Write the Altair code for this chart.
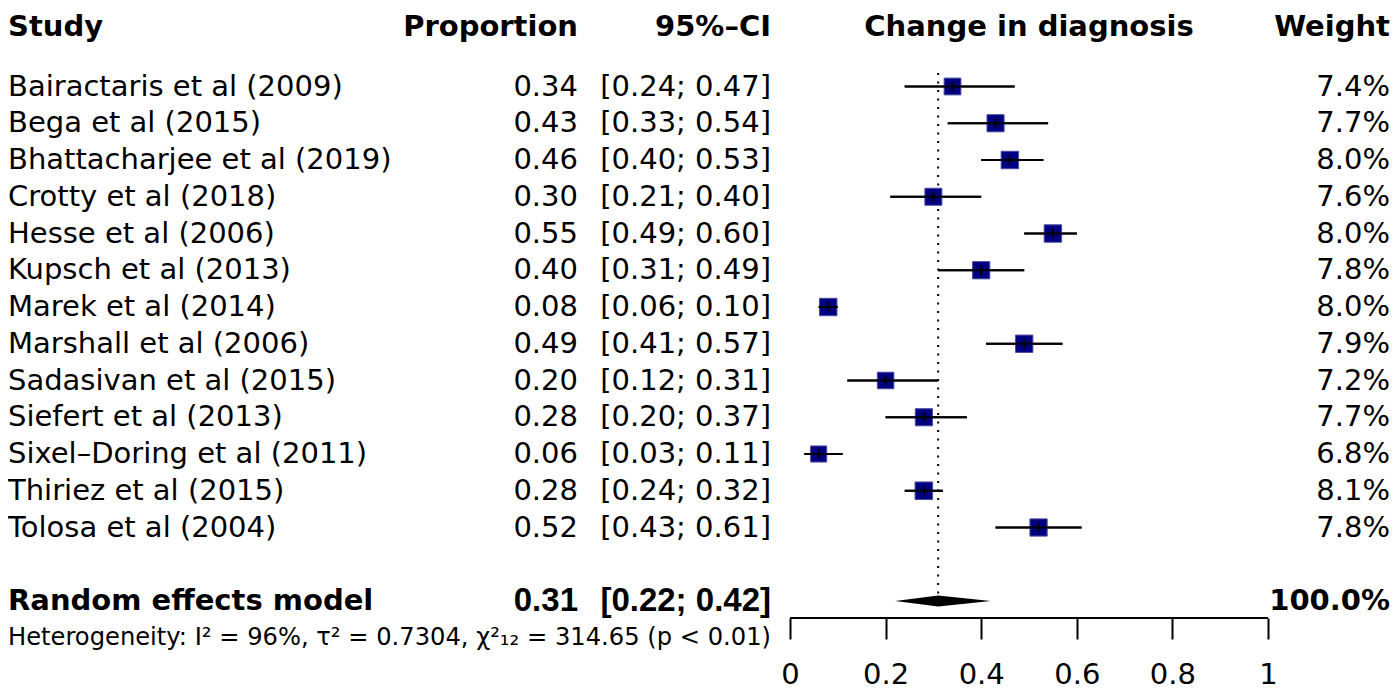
import altair as alt
import pandas as pd

# ---------------- data ----------------
studies = [
    "Bairactaris et al (2009)", "Bega et al (2015)", "Bhattacharjee et al (2019)",
    "Crotty et al (2018)", "Hesse et al (2006)", "Kupsch et al (2013)",
    "Marek et al (2014)", "Marshall et al (2006)", "Sadasivan et al (2015)",
    "Siefert et al (2013)", "Sixel–Doring et al (2011)", "Thiriez et al (2015)",
    "Tolosa et al (2004)",
]
proportion = [0.34, 0.43, 0.46, 0.30, 0.55, 0.40, 0.08, 0.49, 0.20, 0.28, 0.06, 0.28, 0.52]
ci_low = [0.24, 0.33, 0.40, 0.21, 0.49, 0.31, 0.06, 0.41, 0.12, 0.20, 0.03, 0.24, 0.43]
ci_high = [0.47, 0.54, 0.53, 0.40, 0.60, 0.49, 0.10, 0.57, 0.31, 0.37, 0.11, 0.32, 0.61]
weight = [7.4, 7.7, 8.0, 7.6, 8.0, 7.8, 8.0, 7.9, 7.2, 7.7, 6.8, 8.1, 7.8]

pooled_label = "Random effects model"
pooled_est = 0.31
pooled_low = 0.22
pooled_high = 0.42
pooled_weight = 100.0

headers = ["Study", "Proportion", "95%–CI", "Change in diagnosis", "Weight"]
heterogeneity = "Heterogeneity: I² = 96%, τ² = 0.7304, χ²₁₂ = 314.65 (p < 0.01)"
tick_values = [0, 0.2, 0.4, 0.6, 0.8, 1]

# ---------------- layout ----------------
W, H, PAD_B = 1383, 610, 74
X0PX, UNIT = 782, 478            # pixel of x=0 and pixels per unit
ROW0, RSTEP = 78.5, 36.75        # pixel of first row and row step
FONT = "DejaVu Sans"
NFONT = "Liberation Sans"        # narrower bold for pooled numbers
FS = 29
NFS = 33
COL_PROP, COL_CI, COL_W = 570, 763, 1382

n = len(studies)
header_row = -1.62
pooled_row = n + 1
het_row = n + 2
diamond_half = 0.15

xs = alt.Scale(domain=[-X0PX / UNIT, (W - X0PX) / UNIT], nice=False, zero=False)
ys = alt.Scale(domain=[-ROW0 / RSTEP, (H - ROW0) / RSTEP], nice=False, zero=False, reverse=True)
xaxis = alt.Axis(values=tick_values, format="~g", domain=False, grid=False, title=None,
                 ticks=True, tickSize=21, tickWidth=2, tickColor="black",
                 labelFont=FONT, labelFontSize=FS, labelColor="black",
                 labelPadding=21, labelFlush=False, labelOverlap=False)


def X(field):
    return alt.X(field, type="quantitative", scale=xs, axis=xaxis)


def Y(field):
    return alt.Y(field, type="quantitative", scale=ys, axis=None)


rows = list(range(n))
df = pd.DataFrame({
    "study": studies,
    "row": rows,
    "est": proportion,
    "lo": ci_low,
    "hi": ci_high,
    "w": weight,
})
df["est_txt"] = [f"{v:.2f}" for v in proportion]
df["ci_txt"] = [f"[{a:.2f}; {b:.2f}]" for a, b in zip(ci_low, ci_high)]
df["w_txt"] = [f"{v:.1f}%" for v in weight]
df["t0"] = df["row"] - 0.125
df["t1"] = df["row"] + 0.125

pooled = pd.DataFrame({
    "label": [pooled_label], "row": [pooled_row],
    "est_txt": [f"{pooled_est:.2f}"],
    "ci_txt": [f"[{pooled_low:.2f}; {pooled_high:.2f}]"],
    "w_txt": [f"{pooled_weight:.1f}%"],
})

diamond = pd.DataFrame({
    "x": [pooled_low, pooled_est, pooled_high],
    "y": [pooled_row, pooled_row - diamond_half, pooled_row],
    "y2": [pooled_row, pooled_row + diamond_half, pooled_row],
})

ref = pd.DataFrame({"x": [pooled_est], "y": [-0.37], "y2": [pooled_row - diamond_half - 0.01]})
axis_line = pd.DataFrame({"x": [tick_values[0]], "x2": [tick_values[-1]]})

hdr = pd.DataFrame({"txt": headers, "row": [header_row] * 5})
het = pd.DataFrame({"txt": [heterogeneity], "row": [het_row]})

# ---------------- layers ----------------
dotted = alt.Chart(ref).mark_rule(color="black", strokeWidth=2, strokeDash=[2, 6.5]).encode(
    x=X("x"), y=Y("y"), y2="y2")

squares = alt.Chart(df).mark_square(color="#000080", fill="#000080", stroke="#4a4aa0",
                                    strokeWidth=1, opacity=1).encode(
    x=X("est"), y=Y("row"),
    size=alt.Size("w:Q", scale=alt.Scale(domain=[0, 10], range=[0, 380]), legend=None))

ci = alt.Chart(df).mark_rule(color="black", strokeWidth=2).encode(
    x=X("lo"), x2="hi", y=Y("row"))

est_tick = alt.Chart(df).mark_rule(color="black", strokeWidth=2).encode(
    x=X("est"), y=Y("t0"), y2="t1")

diam = alt.Chart(diamond).mark_area(color="black", opacity=1).encode(
    x=X("x"), y=Y("y"), y2="y2")

axl = alt.Chart(axis_line).mark_rule(color="black", strokeWidth=2).encode(
    x=X("x"), x2="x2", y=alt.value(H))

txt_kw = dict(font=FONT, fontSize=FS, color="black", baseline="middle")

study_txt = alt.Chart(df).mark_text(align="left", **txt_kw).encode(
    x=alt.value(0), y=Y("row"), text="study")
prop_txt = alt.Chart(df).mark_text(align="right", **txt_kw).encode(
    x=alt.value(COL_PROP), y=Y("row"), text="est_txt")
ci_txt = alt.Chart(df).mark_text(align="right", **txt_kw).encode(
    x=alt.value(COL_CI), y=Y("row"), text="ci_txt")
w_txt = alt.Chart(df).mark_text(align="right", **txt_kw).encode(
    x=alt.value(COL_W), y=Y("row"), text="w_txt")

bold = dict(txt_kw, fontWeight="bold")
nbold = dict(font=NFONT, fontSize=NFS, color="black", baseline="middle", fontWeight="bold")
p_lab = alt.Chart(pooled).mark_text(align="left", **bold).encode(
    x=alt.value(0), y=Y("row"), text="label")
p_est = alt.Chart(pooled).mark_text(align="right", **nbold).encode(
    x=alt.value(COL_PROP), y=Y("row"), text="est_txt")
p_ci = alt.Chart(pooled).mark_text(align="right", **nbold).encode(
    x=alt.value(COL_CI), y=Y("row"), text="ci_txt")
p_w = alt.Chart(pooled).mark_text(align="right", **bold).encode(
    x=alt.value(COL_W), y=Y("row"), text="w_txt")

h0 = alt.Chart(hdr.iloc[[0]]).mark_text(align="left", **bold).encode(
    x=alt.value(0), y=Y("row"), text="txt")
h1 = alt.Chart(hdr.iloc[[1]]).mark_text(align="right", **bold).encode(
    x=alt.value(COL_PROP), y=Y("row"), text="txt")
h2 = alt.Chart(hdr.iloc[[2]]).mark_text(align="right", **bold).encode(
    x=alt.value(COL_CI), y=Y("row"), text="txt")
h3 = alt.Chart(hdr.iloc[[3]].assign(x=0.5)).mark_text(align="center", **bold).encode(
    x=X("x"), y=Y("row"), text="txt")
h4 = alt.Chart(hdr.iloc[[4]]).mark_text(align="right", **bold).encode(
    x=alt.value(COL_W), y=Y("row"), text="txt")

het_txt = alt.Chart(het).mark_text(align="left", font=FONT, fontSize=24.2, color="black",
                                   baseline="middle").encode(
    x=alt.value(0), y=Y("row"), text="txt")

chart = alt.layer(
    ci, dotted, squares, ci, est_tick, diam, axl,
    study_txt, prop_txt, ci_txt, w_txt,
    p_lab, p_est, p_ci, p_w,
    h0, h1, h2, h3, h4, het_txt,
).properties(
    width=W, height=H,
    autosize=alt.AutoSizeParams(type="none"),
    padding={"left": 0, "top": 0, "right": 0, "bottom": PAD_B},
    background="white",
).configure_view(stroke=None)

chart.save("out.html", embed_options={"renderer": "svg", "actions": False})
